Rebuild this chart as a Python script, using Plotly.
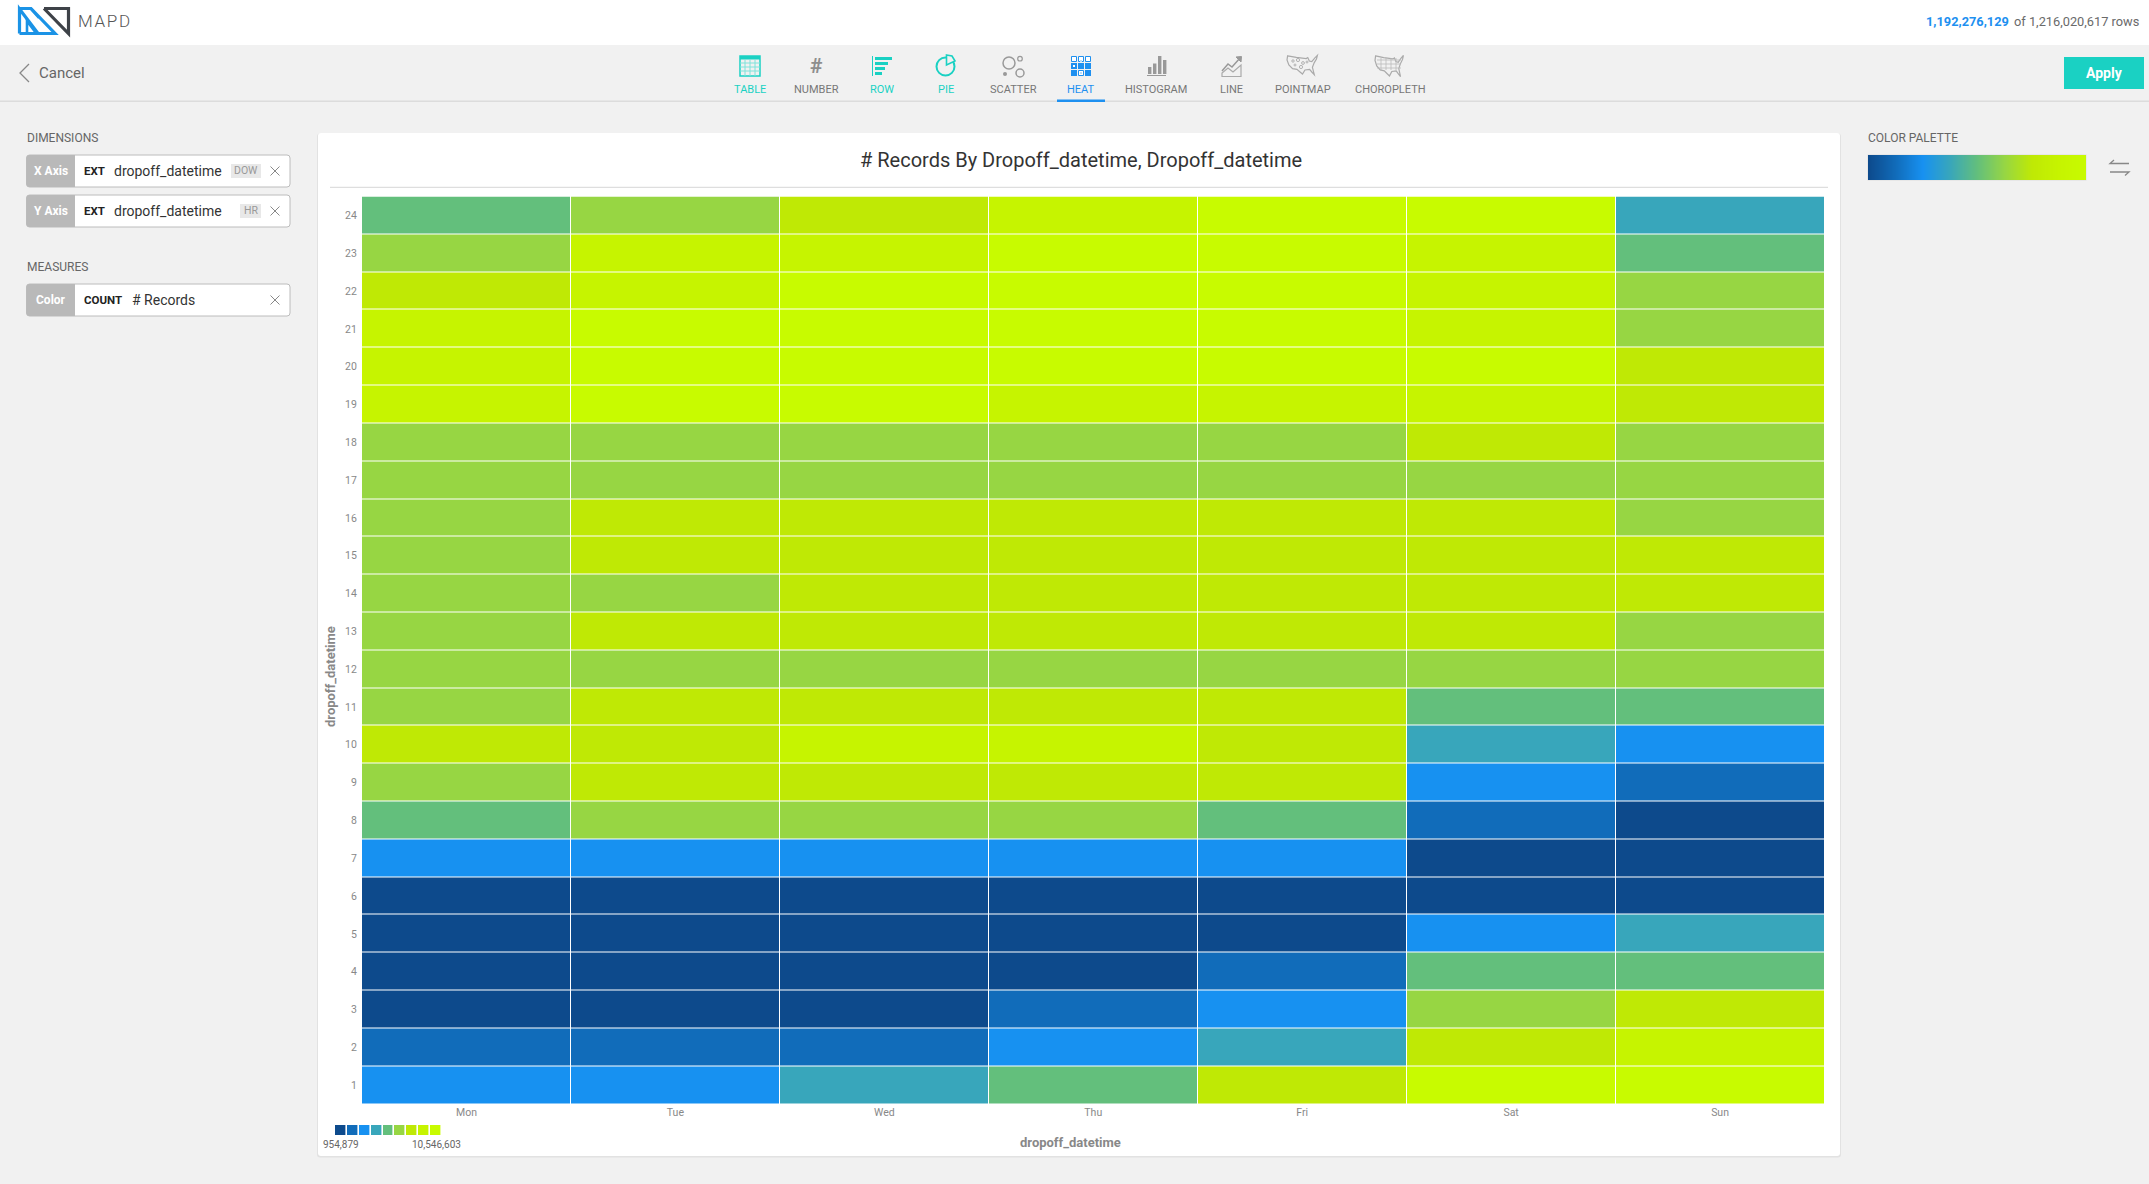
import plotly.graph_objects as go

W, H = 2149, 1184

DAYS = ["Mon", "Tue", "Wed", "Thu", "Fri", "Sat", "Sun"]
HOURS = [str(h) for h in range(1, 25)]

HOUR_01 = [3.6, 3.6, 4.7, 5.8, 7.9, 10.0, 10.0]
HOUR_02 = [2.6, 2.6, 2.6, 3.6, 4.7, 7.9, 9.0]
HOUR_03 = [1.5, 1.5, 1.5, 2.6, 3.6, 6.8, 7.9]
HOUR_04 = [1.5, 1.5, 1.5, 1.5, 2.6, 5.8, 5.8]
HOUR_05 = [1.5, 1.5, 1.5, 1.5, 1.5, 3.6, 4.7]
HOUR_06 = [1.5, 1.5, 1.5, 1.5, 1.5, 1.5, 1.5]
HOUR_07 = [3.6, 3.6, 3.6, 3.6, 3.6, 1.5, 1.5]
HOUR_08 = [5.8, 6.8, 6.8, 6.8, 5.8, 2.6, 1.5]
HOUR_09 = [6.8, 7.9, 7.9, 7.9, 7.9, 3.6, 2.6]
HOUR_10 = [7.9, 7.9, 9.0, 9.0, 7.9, 4.7, 3.6]
HOUR_11 = [6.8, 7.9, 7.9, 7.9, 7.9, 5.8, 5.8]
HOUR_12 = [6.8, 6.8, 6.8, 6.8, 6.8, 6.8, 6.8]
HOUR_13 = [6.8, 7.9, 7.9, 7.9, 7.9, 7.9, 6.8]
HOUR_14 = [6.8, 6.8, 7.9, 7.9, 7.9, 7.9, 7.9]
HOUR_15 = [6.8, 7.9, 7.9, 7.9, 7.9, 7.9, 7.9]
HOUR_16 = [6.8, 7.9, 7.9, 7.9, 7.9, 7.9, 6.8]
HOUR_17 = [6.8, 6.8, 6.8, 6.8, 6.8, 6.8, 6.8]
HOUR_18 = [6.8, 6.8, 6.8, 6.8, 6.8, 7.9, 6.8]
HOUR_19 = [9.0, 10.0, 10.0, 9.0, 9.0, 9.0, 7.9]
HOUR_20 = [9.0, 10.0, 10.0, 10.0, 10.0, 10.0, 7.9]
HOUR_21 = [9.0, 10.0, 10.0, 10.0, 10.0, 9.0, 6.8]
HOUR_22 = [7.9, 9.0, 10.0, 10.0, 10.0, 9.0, 6.8]
HOUR_23 = [6.8, 9.0, 9.0, 10.0, 10.0, 9.0, 5.8]
HOUR_24 = [5.8, 6.8, 7.9, 9.0, 10.0, 10.0, 4.7]
COUNTS = [
    HOUR_01, HOUR_02, HOUR_03, HOUR_04, HOUR_05, HOUR_06, HOUR_07, HOUR_08,
    HOUR_09, HOUR_10, HOUR_11, HOUR_12, HOUR_13, HOUR_14, HOUR_15, HOUR_16,
    HOUR_17, HOUR_18, HOUR_19, HOUR_20, HOUR_21, HOUR_22, HOUR_23, HOUR_24,
]

COUNT_MIN = 0.954879
COUNT_MAX = 10.546603
LEGEND_COUNTS = [1.5, 2.6, 3.6, 4.7, 5.8, 6.8, 7.9, 9.0, 10.0]
PALETTE = [
    "#0d4a8c", "#116cba", "#1791f1", "#38a6bb", "#63bf7c",
    "#97d643", "#bfe905", "#c6f400", "#c8fb00",
]

BG = "#f1f1f1"
TEAL = "#1ad1c3"
BLUE = "#1e90f0"
FONT = "Roboto"

shapes = []
annotations = []


def _x(x):
    return x / W


def _y(y):
    return 1 - y / H


def _rect(x0, y0, x1, y1, fill, line=None, width=0):
    shapes.append(dict(
        type="rect", xref="paper", yref="paper", layer="below",
        x0=_x(x0), x1=_x(x1), y0=_y(y0), y1=_y(y1), fillcolor=fill,
        line=dict(width=width, color=line or fill),
    ))


def _circle(cx, cy, r, fill="rgba(0,0,0,0)", line="#999", width=1.5):
    shapes.append(dict(
        type="circle", xref="paper", yref="paper", layer="below",
        x0=_x(cx - r), x1=_x(cx + r), y0=_y(cy - r), y1=_y(cy + r),
        fillcolor=fill, line=dict(width=width, color=line),
    ))


def _poly(points, line="#999", width=1.5, fill=None, closed=False):
    path = "M" + " L".join(f"{_x(px)},{_y(py)}" for px, py in points)
    if closed:
        path += " Z"
    shapes.append(dict(
        type="path", xref="paper", yref="paper", layer="below", path=path,
        fillcolor=fill or "rgba(0,0,0,0)", line=dict(width=width, color=line),
    ))


def _round_rect(x0, y0, x1, y1, r, fill, line=None, width=0, left=True, right=True):
    rl = r if left else 0
    rr = r if right else 0
    path = (
        f"M{_x(x0 + rl)},{_y(y0)} L{_x(x1 - rr)},{_y(y0)} "
        f"Q{_x(x1)},{_y(y0)} {_x(x1)},{_y(y0 + rr)} "
        f"L{_x(x1)},{_y(y1 - rr)} Q{_x(x1)},{_y(y1)} {_x(x1 - rr)},{_y(y1)} "
        f"L{_x(x0 + rl)},{_y(y1)} Q{_x(x0)},{_y(y1)} {_x(x0)},{_y(y1 - rl)} "
        f"L{_x(x0)},{_y(y0 + rl)} Q{_x(x0)},{_y(y0)} {_x(x0 + rl)},{_y(y0)} Z"
    )
    shapes.append(dict(
        type="path", xref="paper", yref="paper", layer="below", path=path,
        fillcolor=fill, line=dict(width=width, color=line or fill),
    ))


def _text(x, y, text, size=12, color="#666", anchor="left", angle=0, family=FONT):
    annotations.append(dict(
        xref="paper", yref="paper", x=_x(x), y=_y(y), text=text, showarrow=False,
        xanchor=anchor, yanchor="middle", textangle=angle, borderpad=0,
        font=dict(family=family, size=size, color=color),
    ))


def _cross(cx, cy):
    _poly([(cx - 4.5, cy - 4.5), (cx + 4.5, cy + 4.5)], line="#888", width=1)
    _poly([(cx - 4.5, cy + 4.5), (cx + 4.5, cy - 4.5)], line="#888", width=1)


def _pill(y0, y1, tag, parts, badge=None, badge_x=None):
    _round_rect(26.5, y0, 290, y1, 3, "#ffffff", line="#bcbcbc", width=1)
    _round_rect(26.5, y0, 75, y1, 3, "#b9b9b9", right=False)
    cy = (y0 + y1) / 2
    _text(50.5, cy, f"<b>{tag}</b>", size=12, color="#ffffff", anchor="center")
    for x, label, size, color in parts:
        _text(x, cy, label, size=size, color=color)
    if badge:
        _rect(badge_x, cy - 7, 261, cy + 7, "#e8e8e8")
        _text((badge_x + 261) / 2, cy, badge, size=10.5, color="#999", anchor="center")
    _cross(275, cy)


def _us_outline(x0, y0, x1, y1):
    outline = [
        (0.02, 0.04), (0.30, 0.12), (0.62, 0.18), (0.67, 0.13), (0.72, 0.30),
        (0.80, 0.33), (0.90, 0.14), (0.98, 0.02), (0.95, 0.20), (0.88, 0.38),
        (0.82, 0.62), (0.88, 0.98), (0.80, 0.85), (0.73, 0.72), (0.58, 0.75),
        (0.50, 0.95), (0.42, 0.85), (0.32, 0.72), (0.18, 0.68), (0.06, 0.50),
        (0.00, 0.25),
    ]
    pts = [(x0 + (x1 - x0) * a, y0 + (y1 - y0) * b) for a, b in outline]
    _poly(pts, line="#aaa", width=1.2, closed=True)


# page background, top bar and toolbar line
_rect(0, 0, W, 45, "#ffffff")
_rect(0, 100.5, W, 102, "#dcdcdc")

# logo
_poly([(19.5, 33.5), (19.5, 9), (38, 33.5), (19.5, 33.5)], line="#1b93e6", width=3.2)
_poly([(27, 33), (27, 21), (36, 33)], line="#1b93e6", width=2.6)
_poly([(20, 8.5), (31, 8.5), (55, 33.5), (38, 33.5)], line="#1b93e6", width=3.2)
_poly([(31, 9), (39, 18)], line="#1b93e6", width=2.6)
_poly([(44, 8.5), (68.5, 8.5), (68.5, 33.5), (44, 8.5)], line="#3e4248", width=3.2)
_text(77, 21, "M\u200aA\u200aP\u200aD", size=17, color="#555", family="Roboto Light, Roboto")
_text(2140, 21, "of 1,216,020,617 rows", size=12.8, color="#6a6a6a", anchor="right")
_text(2009.5, 21, "<b>1,192,276,129</b>", size=12.8, color=BLUE, anchor="right")

# cancel and apply
_poly([(29, 64), (20, 73), (29, 82)], line="#888", width=1.3)
_text(38, 73, "Cancel", size=15, color="#666")
_rect(2064, 57, 2144, 89, TEAL)
_text(2104, 73, "<b>Apply</b>", size=14, color="#ffffff", anchor="center")

# chart type toolbar
for cx, name, color in [
    (750, "TABLE", TEAL), (816, "NUMBER", "#777"), (882, "ROW", TEAL),
    (946, "PIE", TEAL), (1013, "SCATTER", "#777"), (1081, "HEAT", BLUE),
    (1155.5, "HISTOGRAM", "#777"), (1231, "LINE", "#777"),
    (1303, "POINTMAP", "#777"), (1390, "CHOROPLETH", "#777"),
]:
    _text(cx, 90, name, size=11, color=color, anchor="center")
_rect(1057, 99.5, 1105, 102, BLUE)

# table icon
_rect(740, 56, 760, 76, "rgba(0,0,0,0)", line=TEAL, width=1.5)
_rect(740, 56, 760, 59.5, TEAL)
for vx in (745, 750, 755):
    _poly([(vx, 59), (vx, 76)], line="#7fe3da", width=1)
for hy in (63, 67, 71):
    _poly([(740, hy), (760, hy)], line="#7fe3da", width=1)

# number icon
_text(816, 65.5, "<b>#</b>", size=21, color="#8e8e8e", anchor="center")

# row icon
_poly([(872.5, 56), (872.5, 76)], line=TEAL, width=1)
for bar_w, top in ((17, 57), (13, 62), (10, 67), (7, 72)):
    _rect(875, top, 875 + bar_w, top + 3, TEAL)

# pie icon
_circle(945.5, 66.5, 9, line=TEAL, width=2)
_poly([(946.5, 55), (952, 56), (955, 61), (946.5, 65)], line=TEAL, width=1.6, fill=BG, closed=True)

# scatter icon
_circle(1009, 63, 6)
_circle(1020, 58.7, 2.3, width=1.2)
_circle(1020, 73, 4)
_circle(1005, 74, 2, fill="#999", width=0)

# heat icon
for row, cells in enumerate(("ooo", "fff", "fof")):
    for col, kind in enumerate(cells):
        cx0, cy0 = 1071 + col * 7, 56 + row * 7
        if kind == "o":
            _rect(cx0 + 0.5, cy0 + 0.5, cx0 + 5.5, cy0 + 5.5, "#ffffff", line=BLUE, width=1)
        else:
            _rect(cx0, cy0, cx0 + 6, cy0 + 6, BLUE)
_rect(1080, 60, 1082, 62, "#bcdcf8")
_rect(1073, 65, 1075, 67, "#ffffff")
_rect(1080, 72, 1082, 74, "#bcdcf8")

# histogram icon
for bar_x, top in ((1148, 67), (1153, 63.5), (1158, 56), (1163, 60)):
    _rect(bar_x, top, bar_x + 3.4, 74, "#999")
_poly([(1147, 75.5), (1166, 75.5)], line="#999", width=1)

# line icon
_poly([(1222, 71), (1228, 64), (1232, 67), (1240, 58)], line="#999", width=1.5)
_poly([(1236, 57), (1241.5, 56.5), (1241, 62)], line="#999", fill="#999", width=1, closed=True)
_poly([(1222, 76.5), (1222, 73), (1228, 68), (1233, 72), (1241, 65), (1241, 76.5)],
      line="#aaa", width=1.2, closed=True)

# map icons
_us_outline(1287, 55, 1318, 75)
for mx, my, mr in ((1293, 61, 1.2), (1298, 60, 1.6), (1303, 63, 1.4), (1295, 65, 1), (1301, 67, 1.6), (1307, 62, 1)):
    _circle(mx, my, mr, line="#aaa", width=0.9)
_us_outline(1375, 55, 1404, 77)
for gx in (1381, 1386, 1391, 1396):
    _poly([(gx, 58), (gx, 70)], line="#bbb", width=0.8)
for gy in (60, 64, 68):
    _poly([(1377, gy), (1401, gy)], line="#bbb", width=0.8)

# left panel
_text(25.5, 137.7, "DIMENSIONS", size=12, color="#666")
_pill(155, 187, "X Axis", [(82.5, "<b>EXT</b>", 11.5, "#222"), (112.5, "dropoff_datetime", 14, "#333")], "DOW", 231)
_pill(195, 227, "Y Axis", [(82.5, "<b>EXT</b>", 11.5, "#222"), (112.5, "dropoff_datetime", 14, "#333")], "HR", 240)
_text(25.5, 266.7, "MEASURES", size=12, color="#666")
_pill(284, 316, "Color", [(82.5, "<b>COUNT</b>", 11.5, "#222"), (130.5, "# Records", 14, "#333")])

# right panel
_text(1867, 137.7, "COLOR PALETTE", size=12, color="#666")
_rect(1867.5, 154.5, 2086.5, 180.5, "#dddddd")
_poly([(2114, 160), (2110, 163.5), (2129, 163.5)], line="#888", width=1.3)
_poly([(2110, 172), (2129, 172), (2125, 175.5)], line="#888", width=1.3)

# chart card
_round_rect(317, 133.5, 1841, 1157.5, 3, "#e2e2e2")
_round_rect(318, 133, 1840, 1156, 3, "#ffffff")
_rect(330, 186.8, 1828, 188, "#dedede")
_text(1080.5, 160, "# Records By Dropoff_datetime, Dropoff_datetime", size=20, color="#333", anchor="center")
_text(1070, 1142, "<b>dropoff_datetime</b>", size=13, color="#888", anchor="center")
_text(330, 677, "<b>dropoff_datetime</b>", size=13, color="#888", anchor="center", angle=-90)
_text(321.5, 1144.7, "954,879", size=10, color="#666")
_text(411, 1144.7, "10,546,603", size=10, color="#666")

band_scale = []
for i, colour in enumerate(PALETTE):
    band_scale.append([i / len(PALETTE), colour])
    band_scale.append([(i + 1) / len(PALETTE), colour])

fig = go.Figure()
fig.add_trace(go.Heatmap(
    x=DAYS, y=HOURS, z=COUNTS, colorscale=band_scale,
    zmin=COUNT_MIN, zmax=COUNT_MAX, xgap=1, ygap=1, showscale=False,
))
fig.add_trace(go.Heatmap(
    z=[LEGEND_COUNTS], colorscale=band_scale, zmin=COUNT_MIN, zmax=COUNT_MAX,
    xgap=1.6, showscale=False, xaxis="x2", yaxis="y2", hoverinfo="skip",
))
fig.add_trace(go.Heatmap(
    z=[LEGEND_COUNTS], colorscale=[[(v - 1.5) / 8.5, c] for v, c in zip(LEGEND_COUNTS, PALETTE)],
    zmin=1.5, zmax=10.0, zsmooth="best", showscale=False,
    xaxis="x3", yaxis="y3", hoverinfo="skip",
))

hidden = dict(visible=False, fixedrange=True)
fig.update_layout(
    width=W,
    height=H,
    margin=dict(l=0, r=0, t=0, b=0),
    paper_bgcolor=BG,
    plot_bgcolor="#ffffff",
    showlegend=False,
    font=dict(family=FONT),
    shapes=shapes,
    annotations=annotations,
    xaxis=dict(
        domain=[_x(362), _x(1824.5)], type="category", showgrid=False, zeroline=False,
        ticks="", tickfont=dict(family=FONT, size=10.5, color="#888"),
    ),
    yaxis=dict(
        domain=[_y(1104), _y(196.5)], type="category", showgrid=False, zeroline=False,
        ticks="outside", ticklen=2, tickcolor="rgba(0,0,0,0)",
        tickfont=dict(family=FONT, size=10.5, color="#888"),
    ),
    xaxis2=dict(domain=[_x(335), _x(442)], anchor="y2", **hidden),
    yaxis2=dict(domain=[_y(1135), _y(1125)], anchor="x2", **hidden),
    xaxis3=dict(domain=[_x(1868), _x(2086)], anchor="y3", range=[0, 8], **hidden),
    yaxis3=dict(domain=[_y(180), _y(155)], anchor="x3", range=[-0.5, 0.5], **hidden),
)

fig.write_html(
    "out.html",
    config=dict(displayModeBar=False),
    post_script="document.body.style.margin='0';",
)
